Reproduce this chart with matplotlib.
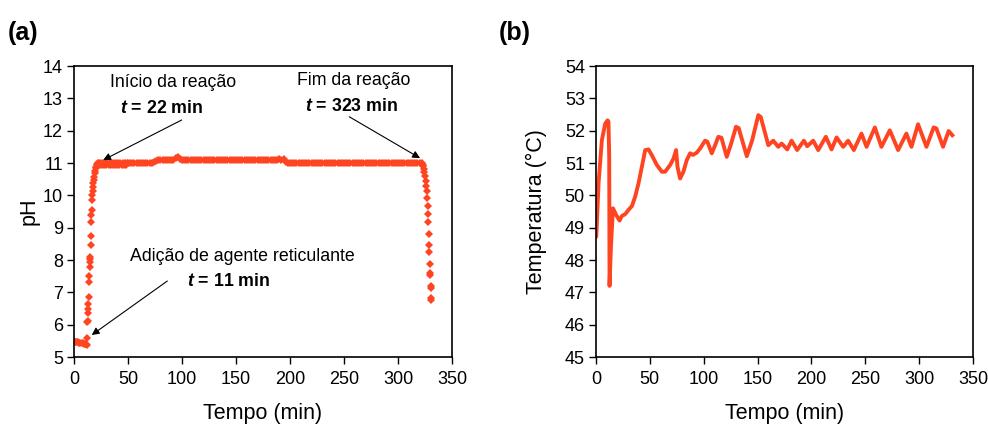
import matplotlib
matplotlib.use("Agg")
import matplotlib.pyplot as plt
import numpy as np

plt.rcParams['font.family'] = ['Liberation Sans', 'DejaVu Sans']
plt.rcParams['mathtext.fontset'] = 'custom'
plt.rcParams['mathtext.it'] = 'Liberation Sans:italic:bold'
plt.rcParams['mathtext.rm'] = 'Liberation Sans:bold'

RED = '#FF4422'

# --- (a) pH data ---
# before crosslinker addition
t_start = [0, 1, 2, 3, 4, 5, 6, 7, 8, 9, 10, 11, 12]
ph_start = [5.48, 5.47, 5.46, 5.46, 5.45, 5.44, 5.44, 5.43, 5.42, 5.41, 5.40, 5.39, 5.38]

# fast rise
t_rise = [12.0, 12.3, 12.5, 12.8, 13.0, 13.2, 13.5, 14.0, 14.2, 14.4, 14.6, 14.8, 15.0,
          15.4, 15.6, 15.9, 16.1, 16.3, 16.7, 16.9, 17.2, 17.5, 17.8, 18.1, 18.5,
          19.0, 19.5, 20.0, 20.5, 21.0, 21.5, 22.0]
ph_rise = [5.58, 6.09, 6.12, 6.37, 6.50, 6.63, 6.85, 7.33, 7.52, 7.79, 7.95, 8.03, 8.10,
           8.46, 8.75, 9.19, 9.39, 9.55, 9.86, 10.00, 10.12, 10.25, 10.37, 10.48, 10.58,
           10.68, 10.76, 10.83, 10.89, 10.94, 10.97, 11.00]

# plateau, first part (noisy band), 1 min steps 23..49
t_plat1 = np.arange(23, 50, 1)
ph_plat1 = [11.00, 10.93, 11.00, 10.94, 11.01, 10.93, 11.00, 10.95, 11.00, 10.93,
            11.01, 10.94, 11.00, 10.93, 11.00, 10.95, 11.01, 10.93, 11.00, 10.94,
            11.00, 10.93, 11.01, 10.95, 11.00, 10.93, 11.00]

# plateau, 2 min steps 50..322
t_plat2 = np.arange(50, 323, 2)
ph_plat2 = [11.00, 11.00, 11.00, 11.00, 11.00, 11.00, 11.00, 11.00, 11.00, 11.00,   # 50-68
            11.00, 11.01, 11.03, 11.06, 11.09, 11.10, 11.10, 11.10, 11.10, 11.10,   # 70-88
            11.10, 11.10, 11.14, 11.20, 11.12, 11.10, 11.10, 11.10, 11.10, 11.10,   # 90-108
            11.10, 11.10, 11.10, 11.10, 11.10, 11.10, 11.10, 11.10, 11.10, 11.10,   # 110-128
            11.10, 11.10, 11.10, 11.10, 11.10, 11.10, 11.10, 11.10, 11.10, 11.10,   # 130-148
            11.10, 11.10, 11.10, 11.10, 11.10, 11.10, 11.10, 11.10, 11.10, 11.10,   # 150-168
            11.10, 11.10, 11.10, 11.10, 11.10, 11.10, 11.10, 11.10, 11.10, 11.10,   # 170-188
            11.12, 11.08, 11.12, 11.03, 11.00, 11.00, 11.00, 11.00, 11.00, 11.00,   # 190-208
            11.00, 11.00, 11.00, 11.00, 11.00, 11.00, 11.00, 11.00, 11.00, 11.00,   # 210-228
            11.00, 11.00, 11.00, 11.00, 11.00, 11.00, 11.00, 11.00, 11.00, 11.00,   # 230-248
            11.00, 11.00, 11.00, 11.00, 11.00, 11.00, 11.00, 11.00, 11.00, 11.00,   # 250-268
            11.00, 11.00, 11.00, 11.00, 11.00, 11.00, 11.00, 11.00, 11.00, 11.00,   # 270-288
            11.00, 11.00, 11.00, 11.00, 11.00, 11.00, 11.00, 11.00, 11.00, 11.00,   # 290-308
            11.00, 11.00, 11.00, 11.00, 11.00, 11.00, 11.00]                       # 310-322

# end of reaction, drop
t_drop = [322.5, 323.0, 323.5, 324.0, 324.5, 325.0, 325.5, 326.0, 326.5, 327.0,
          327.5, 327.8, 328.1, 328.5, 328.8, 329.0, 329.4, 329.7, 329.8, 330.2,
          330.3, 330.7, 330.8]
ph_drop = [10.98, 10.95, 10.90, 10.82, 10.72, 10.60, 10.45, 10.30, 10.12, 9.91,
           9.67, 9.42, 9.19, 8.79, 8.45, 8.26, 7.88, 7.61, 7.54, 7.21,
           7.12, 6.83, 6.76]

t_ph = np.concatenate([t_start, t_rise, t_plat1, t_plat2, t_drop])
ph = np.concatenate([ph_start, ph_rise, ph_plat1, ph_plat2, ph_drop])

# --- (b) temperature data ---
t_temp = [0.0, 0.3, 2.4, 5.5, 8.6, 10.8, 11.6, 12.3, 12.6, 13.9, 15.8, 18.8, 21.9, 24.0,
          27.2, 30.2, 33.4, 36.4, 39.5, 42.6, 45.7, 48.8, 51.9, 56.5, 61.2, 64.2,
          68.9, 72.0, 74.4, 75.7, 78.1, 81.2, 84.3, 87.4, 90.0, 93.6, 96.7, 101.3,
          103.4, 107.5, 110.6, 113.6, 116.5, 121.4, 125.5, 130.0, 132.5, 140.0, 145.0,
          150.7, 153.0, 160.0, 164.6, 169.2, 172.4, 177.6, 181.6, 186.8, 193.0,
          196.1, 201.7, 206.3, 213.4, 218.7, 223.4, 229.5, 234.1, 239.4, 246.5,
          251.2, 258.9, 265.0, 272.8, 280.5, 288.2, 292.9, 299.0, 306.8, 313.5,
          316.0, 322.2, 327.4, 330.8]
temp = [48.72, 48.72, 50.37, 51.71, 52.22, 52.32, 52.28, 51.20, 47.20, 48.41, 49.60, 49.39,
        49.22, 49.36, 49.42, 49.55, 49.67, 49.96, 50.37, 50.88, 51.40, 51.42, 51.24,
        50.94, 50.73, 50.73, 50.94, 51.14, 51.40, 50.88, 50.52, 50.73, 51.09, 51.30,
        51.25, 51.32, 51.45, 51.69, 51.66, 51.30, 51.55, 51.81, 51.78, 51.19, 51.60,
        52.12, 52.08, 51.21, 51.70, 52.48, 52.42, 51.55, 51.69, 51.50, 51.60, 51.42,
        51.69, 51.40, 51.69, 51.52, 51.69, 51.40, 51.81, 51.42, 51.79, 51.50, 51.69,
        51.40, 51.91, 51.50, 52.10, 51.50, 52.01, 51.40, 51.91, 51.50, 52.20, 51.50,
        52.10, 52.07, 51.50, 51.99, 51.86]

fig = plt.figure(figsize=(9.88, 4.25), dpi=100)
ax1 = fig.add_axes([0.0749, 0.16, 0.3826, 0.6847])
ax2 = fig.add_axes([0.6032, 0.16, 0.3816, 0.6847])

# panel (a)
ax1.plot(t_ph, ph, linestyle='none', marker='D', markersize=3.8,
         color=RED, markeredgewidth=0)
ax1.set_xlim(0, 350)
ax1.set_ylim(5, 14)
ax1.set_xticks(range(0, 351, 50))
ax1.set_yticks(range(5, 15))
ax1.set_xlabel('Tempo (min)', fontsize=15.5, labelpad=11)
ax1.set_ylabel('pH', fontsize=15.5, labelpad=2)

arrow = dict(arrowstyle='-|>', color='k', lw=0.8, mutation_scale=11,
             shrinkA=0, shrinkB=0)
ax1.annotate('', xy=(27, 11.09), xytext=(99.7, 12.33), arrowprops=arrow)
ax1.annotate('', xy=(320.4, 11.15), xytext=(254.9, 12.43), arrowprops=arrow)
ax1.annotate('', xy=(16.4, 5.68), xytext=(86.4, 7.35), arrowprops=arrow)

ax1.text(91.7, 13.5, 'Início da reação', ha='center', va='center', fontsize=12.8)
ax1.text(81.5, 12.7, r'$\it{t}$ = 22 min', ha='center', va='center',
         fontsize=12.8, fontweight='bold')
ax1.text(258.8, 13.54, 'Fim da reação', ha='center', va='center', fontsize=12.8)
ax1.text(257.4, 12.74, r'$\it{t}$ = 323 min', ha='center', va='center',
         fontsize=12.8, fontweight='bold')
ax1.text(156, 8.12, 'Adição de agente reticulante', ha='center', va='center',
         fontsize=12.8)
ax1.text(143.5, 7.33, r'$\it{t}$ = 11 min', ha='center', va='center',
         fontsize=12.8, fontweight='bold')

# panel (b)
ax2.plot(t_temp, temp, color=RED, lw=2.8, solid_joinstyle='round')
ax2.set_xlim(0, 350)
ax2.set_ylim(45, 54)
ax2.set_xticks(range(0, 351, 50))
ax2.set_yticks(range(45, 55))
ax2.set_xlabel('Tempo (min)', fontsize=15.5, labelpad=11)
ax2.set_ylabel('Temperatura (°C)', fontsize=15.5, labelpad=13)

for ax in (ax1, ax2):
    ax.tick_params(direction='out', length=5, width=1, labelsize=13)
    ax.tick_params(axis='x', pad=5)
    ax.tick_params(axis='y', pad=3)
    for s in ax.spines.values():
        s.set_linewidth(1.2)

fig.text(0.008, 0.905, '(a)', fontsize=18, fontweight='bold')
fig.text(0.505, 0.905, '(b)', fontsize=18, fontweight='bold')

fig.savefig('out.png', dpi=100)
